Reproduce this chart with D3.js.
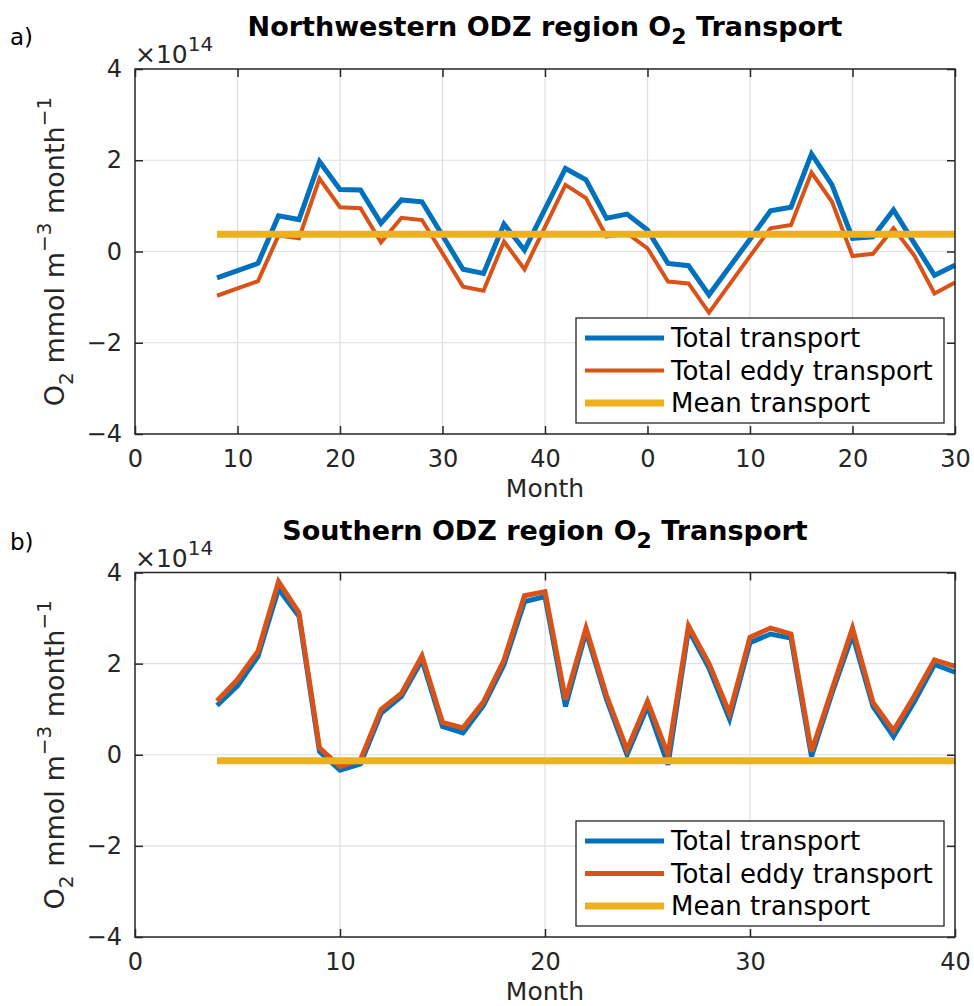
<!DOCTYPE html>
<html>
<head>
<meta charset="utf-8">
<script src="https://cdn.jsdelivr.net/npm/d3@7"></script>
<style>
  body { margin: 0; background: #fff; }
  text { font-family: "DejaVu Sans", sans-serif; }
</style>
</head>
<body>
<svg id="chart" width="974" height="1006"></svg>
<script>
// O2 transport, in units of 10^14 mmol m^-3 month^-1
const exponent = 14;
const seriesNames = ["Total transport", "Total eddy transport", "Mean transport"];
const seriesColors = ["#0072BD", "#D95319", "#EDB120"];

// Panel a: Northwestern ODZ region
const nwMonths = [8, 10, 12, 14, 16, 18, 20, 22, 24, 26, 28, 30, 32, 34, 36, 38, 40, 42, 44,
                  46, 48, 50, 52, 54, 56, 58, 60, 62, 64, 66, 68, 70, 72, 74, 76, 78, 80];
const nwTotal = [-0.58, -0.42, -0.26, 0.78, 0.70, 1.97, 1.36, 1.35, 0.62, 1.13, 1.09, 0.35, -0.39,
                 -0.48, 0.60, 0.03, 0.93, 1.82, 1.57, 0.73, 0.82, 0.47, -0.26, -0.31, -0.95, -0.34,
                 0.27, 0.89, 0.97, 2.14, 1.46, 0.29, 0.32, 0.91, 0.19, -0.52, -0.30];
const nwEddy = [-0.97, -0.81, -0.65, 0.35, 0.29, 1.60, 0.97, 0.95, 0.20, 0.74, 0.69, -0.04, -0.77,
                -0.86, 0.22, -0.39, 0.54, 1.46, 1.17, 0.33, 0.40, 0.07, -0.66, -0.70, -1.34, -0.72,
                -0.10, 0.51, 0.58, 1.73, 1.09, -0.10, -0.05, 0.51, -0.08, -0.92, -0.68];
const nwMean = 0.38;
const nwTickValues = [0, 10, 20, 30, 40, 50, 60, 70, 80];
const nwTickLabels = ["0", "10", "20", "30", "40", "0", "10", "20", "30"];

// Panel b: Southern ODZ region
const sMonths = [4, 5, 6, 7, 8, 9, 10, 11, 12, 13, 14, 15, 16, 17, 18, 19, 20, 21, 22, 23, 24,
                 25, 26, 27, 28, 29, 30, 31, 32, 33, 34, 35, 36, 37, 38, 39, 40];
const sTotal = [1.08, 1.51, 2.16, 3.64, 3.04, 0.07, -0.34, -0.20, 0.91, 1.28, 2.08, 0.62, 0.48,
                1.08, 1.98, 3.36, 3.47, 1.06, 2.70, 1.22, 0.00, 1.06, -0.22, 2.74, 1.90, 0.78,
                2.46, 2.65, 2.56, -0.04, 1.35, 2.63, 1.06, 0.40, 1.15, 1.98, 1.81];
const sEddy = [1.18, 1.65, 2.27, 3.80, 3.12, 0.15, -0.26, -0.11, 0.99, 1.35, 2.17, 0.71, 0.59,
               1.16, 2.08, 3.49, 3.58, 1.21, 2.78, 1.30, 0.11, 1.17, 0.00, 2.83, 2.00, 0.91,
               2.58, 2.78, 2.65, 0.07, 1.43, 2.78, 1.15, 0.53, 1.28, 2.08, 1.94];
const sMean = -0.13;
const sTickValues = [0, 10, 20, 30, 40];
const sTickLabels = ["0", "10", "20", "30", "40"];

const yTickValues = [-4, -2, 0, 2, 4];

const svg = d3.select("#chart");
const axisColor = "#262626";
const gridColor = "#dfdfdf";
const left = 135, right = 955;

function drawPanel(p) {
  const x = d3.scaleLinear().domain(p.xDomain).range([left, right]);
  const y = d3.scaleLinear().domain([-4, 4]).range([p.bottom, p.top]);
  const g = svg.append("g");

  // grid
  g.append("g").selectAll("line").data(p.xTicks.slice(1, -1)).join("line")
    .attr("x1", d => x(d)).attr("x2", d => x(d))
    .attr("y1", p.top).attr("y2", p.bottom)
    .attr("stroke", gridColor).attr("stroke-width", 1.2);
  g.append("g").selectAll("line").data(yTickValues.slice(1, -1)).join("line")
    .attr("y1", d => y(d)).attr("y2", d => y(d))
    .attr("x1", left).attr("x2", right)
    .attr("stroke", gridColor).attr("stroke-width", 1.2);

  // axes with inward ticks on all four sides
  const styleAxis = sel => {
    sel.select(".domain").remove();
    sel.selectAll(".tick line").attr("stroke", axisColor).attr("stroke-width", 1.5);
    sel.selectAll(".tick text").attr("fill", axisColor)
      .style("font-family", "'DejaVu Sans', sans-serif").style("font-size", "24px");
  };
  g.append("g").attr("transform", `translate(0,${p.bottom})`)
    .call(d3.axisBottom(x).tickValues(p.xTicks).tickFormat((d, i) => p.xLabels[i])
      .tickSizeInner(-8).tickSizeOuter(0).tickPadding(16))
    .call(styleAxis);
  g.append("g").attr("transform", `translate(0,${p.top})`)
    .call(d3.axisTop(x).tickValues(p.xTicks).tickFormat("")
      .tickSizeInner(-8).tickSizeOuter(0))
    .call(styleAxis);
  g.append("g").attr("transform", `translate(${left},0)`)
    .call(d3.axisLeft(y).tickValues(yTickValues).tickSizeInner(-8).tickSizeOuter(0).tickPadding(13))
    .call(styleAxis);
  g.append("g").attr("transform", `translate(${right},0)`)
    .call(d3.axisRight(y).tickValues(yTickValues).tickFormat("").tickSizeInner(-8).tickSizeOuter(0))
    .call(styleAxis);

  // series
  const line = d3.line().x((d, i) => x(p.months[i])).y(d => y(d));
  g.append("path").datum(p.total).attr("d", line).attr("fill", "none")
    .attr("stroke", seriesColors[0]).attr("stroke-width", 5).attr("stroke-linejoin", "miter");
  g.append("path").datum(p.eddy).attr("d", line).attr("fill", "none")
    .attr("stroke", seriesColors[1]).attr("stroke-width", p.eddyWidth).attr("stroke-linejoin", "miter");
  const meanRow = p.months.map(() => p.mean);
  g.append("path").datum(meanRow).attr("d", line).attr("fill", "none")
    .attr("stroke", seriesColors[2]).attr("stroke-width", 7);

  // frame
  g.append("rect").attr("x", left).attr("y", p.top)
    .attr("width", right - left).attr("height", p.bottom - p.top)
    .attr("fill", "none").attr("stroke", axisColor).attr("stroke-width", 1.5);

  // exponent label
  const ex = g.append("text").attr("x", left).attr("y", p.top - 6)
    .attr("fill", axisColor).style("font-size", "25px");
  ex.append("tspan").text("\u00d710");
  ex.append("tspan").attr("dy", -12).style("font-size", "20px").text(exponent);

  // title
  const t = g.append("text").attr("x", (left + right) / 2).attr("y", p.top - 33)
    .attr("text-anchor", "middle").attr("fill", "#000")
    .style("font-size", "27px").style("font-weight", "bold");
  t.append("tspan").text(p.title + " O");
  t.append("tspan").attr("dy", 8).style("font-size", "22px").text("2");
  t.append("tspan").attr("dy", -8).text(" Transport");

  // panel tag
  g.append("text").attr("x", 10).attr("y", p.tagY).attr("fill", "#000")
    .style("font-size", "23px").text(p.tag);

  // y label
  const yl = g.append("text")
    .attr("transform", `translate(64,${(p.top + p.bottom) / 2}) rotate(-90)`)
    .attr("text-anchor", "middle").attr("fill", axisColor).style("font-size", "27px");
  yl.append("tspan").text("O");
  yl.append("tspan").attr("dy", 9).style("font-size", "20px").text("2");
  yl.append("tspan").attr("dy", -9).text(" mmol m");
  yl.append("tspan").attr("dy", -13).style("font-size", "20px").text("\u22123");
  yl.append("tspan").attr("dy", 13).text(" month");
  yl.append("tspan").attr("dy", -13).style("font-size", "20px").text("\u22121");

  // x label
  g.append("text").attr("x", (left + right) / 2).attr("y", p.bottom + 62.5)
    .attr("text-anchor", "middle").attr("fill", axisColor).style("font-size", "25px")
    .text("Month");

  // legend
  const lgW = 368, lgH = 105;
  const lgX = right - 11 - lgW, lgY = p.bottom - 11 - lgH;
  const lg = g.append("g").attr("transform", `translate(${lgX},${lgY})`);
  lg.append("rect").attr("width", lgW).attr("height", lgH)
    .attr("fill", "#fff").attr("stroke", axisColor).attr("stroke-width", 1.3);
  const widths = [5, p.eddyWidth, 7];
  seriesNames.forEach((name, i) => {
    const cy = 20 + i * 32.5;
    lg.append("line").attr("x1", 9).attr("x2", 88).attr("y1", cy).attr("y2", cy)
      .attr("stroke", seriesColors[i]).attr("stroke-width", widths[i]);
    lg.append("text").attr("x", 95).attr("y", cy).attr("dy", "0.36em")
      .attr("fill", "#000").style("font-size", "26px").text(name);
  });
}

drawPanel({
  top: 69, bottom: 434, xDomain: [0, 80], xTicks: nwTickValues, xLabels: nwTickLabels,
  months: nwMonths, total: nwTotal, eddy: nwEddy, mean: nwMean, eddyWidth: 4,
  title: "Northwestern ODZ region", tag: "a)", tagY: 45
});
drawPanel({
  top: 572.5, bottom: 937, xDomain: [0, 40], xTicks: sTickValues, xLabels: sTickLabels,
  months: sMonths, total: sTotal, eddy: sEddy, mean: sMean, eddyWidth: 5,
  title: "Southern ODZ region", tag: "b)", tagY: 550
});
</script>
</body>
</html>
